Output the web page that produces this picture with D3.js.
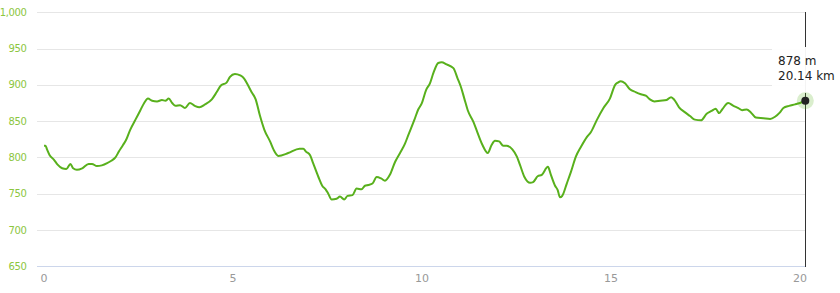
<!DOCTYPE html>
<html>
<head>
<meta charset="utf-8">
<script src="https://cdn.jsdelivr.net/npm/d3@7"></script>
<style>
  html, body { margin: 0; padding: 0; background: #fff; }
  svg { display: block; font-family: "DejaVu Sans", Verdana, sans-serif; }
</style>
</head>
<body>
<svg id="chart" width="840" height="293"></svg>
<script>
// distance along the route (km) and elevation (m)
const distKm = [0.00, 0.04, 0.08, 0.15, 0.26, 0.36, 0.48, 0.59, 0.70, 0.77, 0.87, 1.01, 1.18, 1.27, 1.40, 1.53, 1.67, 1.77, 1.89, 1.98,
  2.09, 2.18, 2.28, 2.42, 2.55, 2.65, 2.75, 2.86, 2.99, 3.12, 3.21, 3.30, 3.39, 3.48, 3.60, 3.73, 3.86, 3.99, 4.11, 4.26,
  4.44, 4.57, 4.68, 4.83, 4.92, 5.05, 5.19, 5.29, 5.39, 5.49, 5.60, 5.71, 5.83, 5.98, 6.07, 6.20, 6.46, 6.76, 6.86, 6.93,
  7.04, 7.12, 7.26, 7.36, 7.45, 7.52, 7.61, 7.74, 7.83, 7.94, 8.03, 8.16, 8.27, 8.40, 8.49, 8.58, 8.69, 8.80, 8.92, 9.02,
  9.15, 9.29, 9.44, 9.55, 9.64, 9.80, 9.90, 9.99, 10.11, 10.21, 10.30, 10.43, 10.52, 10.65, 10.83, 10.94, 11.03, 11.12, 11.21, 11.36,
  11.49, 11.60, 11.74, 11.84, 11.93, 12.04, 12.15, 12.24, 12.39, 12.51, 12.59, 12.71, 12.86, 12.94, 13.06, 13.17, 13.33, 13.41, 13.52, 13.59,
  13.65, 13.71, 13.83, 13.94, 14.07, 14.21, 14.36, 14.47, 14.62, 14.80, 14.97, 15.11, 15.18, 15.26, 15.37, 15.50, 15.65, 15.79, 15.92, 16.03,
  16.15, 16.30, 16.47, 16.59, 16.68, 16.80, 16.96, 17.09, 17.22, 17.38, 17.53, 17.66, 17.77, 17.86, 17.94, 18.10, 18.24, 18.37, 18.47, 18.59,
  18.70, 18.83, 19.03, 19.21, 19.34, 19.47, 19.56, 19.71, 19.87, 20.00, 20.14];
const elevM = [816, 816, 811, 803, 797, 790, 785, 784, 791, 785, 783, 785, 791, 791, 788, 789, 792, 795, 800, 808,
  817, 825, 838, 852, 865, 875, 881, 878, 877, 879, 878, 881, 875, 871, 872, 868, 875, 871, 869, 873,
  880, 890, 899, 903, 911, 915, 913, 909, 900, 890, 880, 858, 838, 822, 811, 802, 806, 812, 812, 808,
  803, 792, 773, 761, 756, 750, 742, 743, 746, 742, 747, 748, 757, 756, 761, 762, 764, 773, 771, 768,
  776, 794, 808, 819, 831, 852, 866, 874, 893, 902, 916, 930, 931, 928, 923, 909, 897, 881, 865, 849,
  831, 817, 806, 817, 823, 822, 816, 816, 811, 801, 790, 773, 765, 766, 774, 776, 787, 776, 761, 755,
  745, 747, 764, 780, 801, 815, 828, 835, 851, 868, 881, 900, 903, 905, 902, 894, 890, 887, 885, 880,
  877, 878, 879, 883, 879, 869, 862, 857, 852, 851, 860, 864, 867, 861, 866, 875, 871, 868, 865, 866,
  862, 855, 854, 853, 856, 862, 868, 871, 873, 875, 878];
const yTicks = [650, 700, 750, 800, 850, 900, 950, 1000];
const xTicks = [0, 5, 10, 15, 20];

const svg = d3.select("#chart");
const plotLeft = 37, plotRight = 805;

const x = d3.scaleLinear().domain([0, 20.14]).range([44, 805.3]);
const y = d3.scaleLinear().domain([650, 1000]).range([266.3, 12.2]);

const data = distKm.map((d, i) => ({ km: d, m: elevM[i] }));

// grid lines
svg.append("g").selectAll("line")
  .data(yTicks).join("line")
  .attr("x1", plotLeft).attr("x2", plotRight)
  .attr("y1", d => Math.round(y(d)) + 0.5).attr("y2", d => Math.round(y(d)) + 0.5)
  .attr("stroke", d => d === 650 ? "#ccd6eb" : "#e6e6e6")
  .attr("stroke-width", 1);

// y labels
svg.append("g").selectAll("text")
  .data(yTicks).join("text")
  .attr("x", 26.5).attr("y", d => y(d))
  .attr("dy", "0.35em")
  .attr("text-anchor", "end")
  .attr("font-size", 10)
  .attr("letter-spacing", -0.4)
  .attr("fill", "#8cc63f")
  .text(d => d3.format(",")(d));

// x labels
svg.append("g").selectAll("text")
  .data(xTicks).join("text")
  .attr("x", d => x(d)).attr("y", 282)
  .attr("text-anchor", "middle")
  .attr("font-size", 11)
  .attr("fill", "#999")
  .text(d => d);

// crosshair at last point
const last = data[data.length - 1];
svg.append("line")
  .attr("x1", Math.round(x(last.km)) + 0.5).attr("x2", Math.round(x(last.km)) + 0.5)
  .attr("y1", 12).attr("y2", 267)
  .attr("stroke", "#333").attr("stroke-width", 1);

// elevation line
const line = d3.line()
  .x(d => x(d.km))
  .y(d => y(d.m))
  .curve(d3.curveMonotoneX);

svg.append("path")
  .datum(data)
  .attr("d", line)
  .attr("fill", "none")
  .attr("stroke", "#58b01c")
  .attr("stroke-width", 2)
  .attr("stroke-linejoin", "round");

// tooltip box and text
svg.append("rect")
  .attr("x", 772).attr("y", 47).attr("width", 70).attr("height", 46)
  .attr("fill", "#fff").attr("fill-opacity", 0.95);

const tip = svg.append("text")
  .attr("x", 778).attr("font-size", 12).attr("fill", "#222");
tip.append("tspan").attr("x", 778).attr("y", 65).text(`${last.m} m`);
tip.append("tspan").attr("x", 778).attr("y", 80).text(`${last.km} km`);

// hover marker
svg.append("circle")
  .attr("cx", x(last.km)).attr("cy", y(last.m)).attr("r", 8.5)
  .attr("fill", "#58b01c").attr("fill-opacity", 0.22);
svg.append("circle")
  .attr("cx", x(last.km)).attr("cy", y(last.m)).attr("r", 4)
  .attr("fill", "#222");
</script>
</body>
</html>
